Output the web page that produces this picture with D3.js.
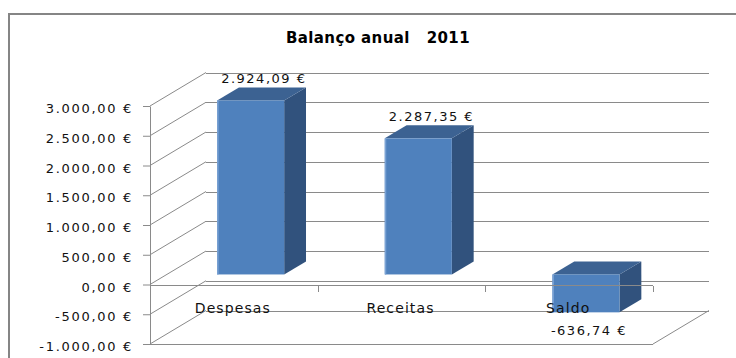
<!DOCTYPE html>
<html>
<head>
<meta charset="utf-8">
<script src="https://cdn.jsdelivr.net/npm/d3@7"></script>
<style>
  html, body { margin: 0; padding: 0; background: #fff; }
  svg { display: block; }
</style>
</head>
<body>
<script>
// Annual balance data
const title = "Balanço anual   2011";
const categories = ["Despesas", "Receitas", "Saldo"];
const values = [2924.09, 2287.35, -636.74];
const tickValues = [-1000, -500, 0, 500, 1000, 1500, 2000, 2500, 3000];

const W = 736, H = 358;
const svg = d3.select("body").append("svg").attr("width", W).attr("height", H);

// Portuguese currency formatting: 2.924,09 €
const locale = d3.formatLocale({
  decimal: ",", thousands: ".", grouping: [3],
  currency: ["", " €"], minus: "-"
});
const fmt = locale.format("$,.2f");

// Front plane of the 3D box and the oblique depth offset
const y = d3.scaleLinear().domain([-1000, 3000]).range([344, 106]);
const x = d3.scaleBand().domain(categories).range([150, 653]);
const DX = 56, DY = -33.5;
const xLeft = x.range()[0], xRight = x.range()[1];
const gridColor = "#8a8a8a";
const font = "DejaVu Sans, Verdana, sans-serif";

// Outer chart border (left and top)
svg.append("path")
  .attr("d", `M9,358 V14 H736`)
  .attr("fill", "none").attr("stroke", "#858585").attr("stroke-width", 2);

// Title
svg.append("text")
  .attr("x", 378).attr("y", 43)
  .attr("text-anchor", "middle")
  .style("white-space", "pre")
  .attr("font-family", font).attr("font-weight", "bold")
  .attr("font-size", 15).attr("letter-spacing", 0.4)
  .attr("fill", "#000")
  .text(title);

const walls = svg.append("g").attr("stroke", gridColor).attr("stroke-width", 1).attr("fill", "none");

// Side wall: diagonals from each tick on the value axis to the back wall
walls.selectAll("line.side").data(tickValues).join("line")
  .attr("class", "side")
  .attr("x1", xLeft).attr("y1", d => y(d))
  .attr("x2", xLeft + DX).attr("y2", d => y(d) + DY);

// Back wall gridlines
walls.selectAll("line.back").data(tickValues).join("line")
  .attr("class", "back")
  .attr("shape-rendering", "crispEdges")
  .attr("x1", xLeft + DX).attr("y1", d => Math.round(y(d) + DY) + 0.5)
  .attr("x2", xRight + DX).attr("y2", d => Math.round(y(d) + DY) + 0.5);

// Floor: front edge and right edge
const yFloor = y(y.domain()[0]);
walls.append("line")
  .attr("shape-rendering", "crispEdges")
  .attr("x1", xLeft).attr("y1", Math.round(yFloor) + 0.5)
  .attr("x2", xRight).attr("y2", Math.round(yFloor) + 0.5);
walls.append("line")
  .attr("x1", xRight).attr("y1", yFloor)
  .attr("x2", xRight + DX).attr("y2", yFloor + DY);

// 3D columns
const d0 = 0.3, d1 = 0.69;
const bars = svg.append("g");
categories.forEach((c, i) => {
  const v = values[i];
  const cx = x(c) + x.bandwidth() / 2;
  const w = x.bandwidth() * 0.4;
  const x0 = cx - w / 2, x1 = cx + w / 2;
  const yt = y(Math.max(v, 0)), yb = y(Math.min(v, 0));
  const P = (px, py, d) => [px + d * DX, py + d * DY];
  const poly = pts => "M" + pts.map(p => p.join(",")).join("L") + "Z";

  // right side face
  bars.append("path")
    .attr("d", poly([P(x1, yt, d0), P(x1, yt, d1), P(x1, yb, d1), P(x1, yb, d0)]))
    .attr("fill", "#31527d");
  // top face
  bars.append("path")
    .attr("d", poly([P(x0, yt, d0), P(x1, yt, d0), P(x1, yt, d1), P(x0, yt, d1)]))
    .attr("fill", "#3c6292");
  // front face
  const f0 = P(x0, yt, d0), f1 = P(x1, yb, d0);
  bars.append("rect")
    .attr("x", f0[0]).attr("y", f0[1])
    .attr("width", f1[0] - f0[0]).attr("height", f1[1] - f0[1])
    .attr("fill", "#4f81bd");
  // light left edge of the front face
  bars.append("line")
    .attr("x1", f0[0] + 0.75).attr("y1", f0[1])
    .attr("x2", f0[0] + 0.75).attr("y2", f1[1])
    .attr("stroke", "#7aa2d4").attr("stroke-width", 1.5);
});

// Value axis
const yAxis = d3.axisLeft(y)
  .tickValues(tickValues)
  .tickFormat(fmt)
  .tickSize(7)
  .tickSizeOuter(0)
  .tickPadding(10);
const gy = svg.append("g").attr("transform", `translate(${xLeft},0)`).call(yAxis);
gy.select(".domain").attr("stroke", gridColor);
gy.selectAll(".tick line").attr("stroke", gridColor);
gy.selectAll(".tick text")
  .attr("font-family", font).attr("font-size", 13)
  .attr("letter-spacing", 1.7)
  .attr("fill", "#111")
  .attr("dy", "0.5em");

// Category axis at zero with boundary ticks
const y0 = Math.round(y(0)) + 0.5;
const cat = svg.append("g").attr("stroke", gridColor).attr("shape-rendering", "crispEdges");
cat.append("line").attr("x1", xLeft).attr("x2", xRight).attr("y1", y0).attr("y2", y0);
const bounds = categories.map(c => x(c)).concat([xRight]);
cat.selectAll("line.tk").data(bounds).join("line")
  .attr("class", "tk")
  .attr("x1", d => Math.round(d) + 0.5).attr("x2", d => Math.round(d) + 0.5)
  .attr("y1", y0).attr("y2", y0 + 6);

// Category labels
svg.append("g").selectAll("text").data(categories).join("text")
  .attr("x", d => x(d) + x.bandwidth() / 2 - 1)
  .attr("y", y(0) + 28)
  .attr("text-anchor", "middle")
  .attr("font-family", font).attr("font-size", 14)
  .attr("letter-spacing", 1.1)
  .attr("fill", "#111")
  .text(d => d);

// Data labels
svg.append("g").selectAll("text").data(values).join("text")
  .attr("x", (v, i) => {
    const cx = x(categories[i]) + x.bandwidth() / 2;
    return v >= 0 ? cx + 0.5 * DX + 2 : cx + d0 * DX + 3;
  })
  .attr("y", v => v >= 0 ? y(v) + d1 * DY - 4.5 : y(v) + d0 * DY + 22.5)
  .attr("text-anchor", "middle")
  .attr("font-family", font).attr("font-size", 13)
  .attr("letter-spacing", 1.5)
  .attr("fill", "#111")
  .text(v => fmt(v));
</script>
</body>
</html>
